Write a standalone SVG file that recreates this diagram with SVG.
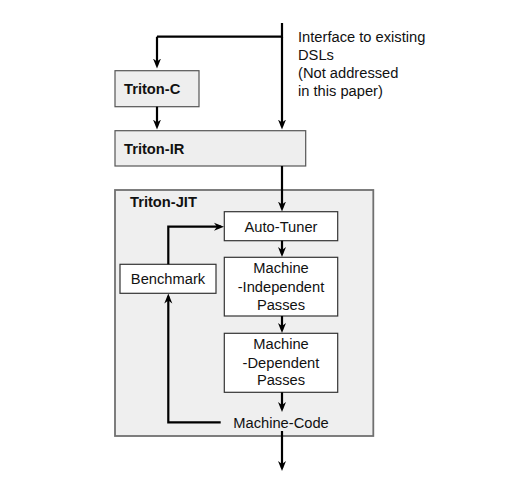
<svg xmlns="http://www.w3.org/2000/svg" width="525" height="493" viewBox="0 0 525 493">
<style>
.t{font-family:"Liberation Sans",Arial,sans-serif;font-size:14.7px;fill:#111;}
.b{font-weight:bold;}
.m{text-anchor:middle;}
.gray{fill:#eeeeee;stroke:#555;stroke-width:1.2;}
.white{fill:#ffffff;stroke:#333;stroke-width:1.2;}
.jit{fill:#efefef;stroke:#707070;stroke-width:1.8;}
.c{fill:none;stroke:#000;stroke-width:2.2;marker-end:url(#ah);}
.cn{fill:none;stroke:#000;stroke-width:2.2;}
</style>
<defs>
<marker id="ah" viewBox="0 0 10 10" refX="7" refY="5" markerWidth="10" markerHeight="10" markerUnits="userSpaceOnUse" orient="auto">
<path d="M0,1 L10,5 L0,9 L3,5 z" fill="#000"/>
</marker>
</defs>
<rect width="525" height="493" fill="#fff"/>
<g id="triton-jit">
<rect class="jit" x="115" y="190" width="258.3" height="246"/>
<text class="t b" x="130" y="206.5">Triton-JIT</text>
</g>
<g id="triton-c">
<rect class="gray" x="115" y="70.7" width="84" height="36"/>
<text class="t b" x="124" y="93.5">Triton-C</text>
</g>
<g id="triton-ir">
<rect class="gray" x="115" y="130.7" width="190.7" height="35.3"/>
<text class="t b" x="124" y="153.5">Triton-IR</text>
</g>
<g id="dsl-note">
<text class="t" x="298" y="42">Interface to existing</text>
<text class="t" x="298" y="60">DSLs</text>
<text class="t" x="298" y="78">(Not addressed</text>
<text class="t" x="298" y="96">in this paper)</text>
</g>
<g id="auto-tuner">
<rect class="white" x="224.3" y="211.7" width="113.4" height="29"/>
<text class="t m" x="281" y="231.5">Auto-Tuner</text>
</g>
<g id="machine-independent">
<rect class="white" x="224.3" y="257.3" width="113.4" height="58.7"/>
<text class="t m" x="281" y="273.3">Machine</text>
<text class="t m" x="281" y="291.7">-Independent</text>
<text class="t m" x="281" y="310">Passes</text>
</g>
<g id="machine-dependent">
<rect class="white" x="224.3" y="333.3" width="113.4" height="59"/>
<text class="t m" x="281" y="349.3">Machine</text>
<text class="t m" x="281" y="367.7">-Dependent</text>
<text class="t m" x="281" y="385">Passes</text>
</g>
<g id="benchmark">
<rect class="white" x="120" y="264.3" width="96" height="29"/>
<text class="t m" x="168" y="284">Benchmark</text>
</g>
<g id="machine-code">
<text class="t m" x="281" y="427.7">Machine-Code</text>
</g>
<g id="connectors">
<path class="cn" d="M282,23 V36.7 H157"/>
<path class="c" d="M282,36.7 V126.5"/>
<path class="c" d="M157,36.7 V65.5"/>
<path class="c" d="M157,106.7 V126.5"/>
<path class="c" d="M282,166 V208.5"/>
<path class="c" d="M282,240.7 V254"/>
<path class="c" d="M282,316 V330"/>
<path class="c" d="M282,392.3 V409"/>
<path class="c" d="M282,431 V468"/>
<path class="c" d="M220.7,422.3 H168.3 V296.5"/>
<path class="c" d="M168.3,264.3 V226.7 H221"/>
</g>
</svg>
